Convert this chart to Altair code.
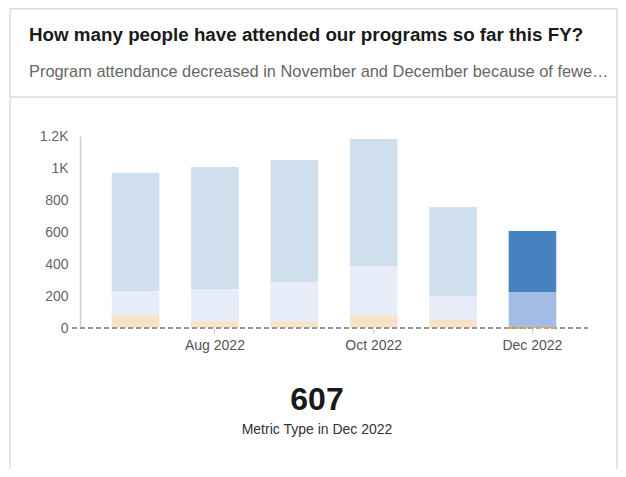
import altair as alt
import pandas as pd

# ---------------- data ----------------
months = ["Jul 2022", "Aug 2022", "Sep 2022", "Oct 2022", "Nov 2022", "Dec 2022"]
series_names = ["Type A", "Type B", "Type C"]          # bottom -> top
type_a = [80, 42, 42, 79, 54, 0]
type_b = [151, 200, 245, 308, 146, 225]
type_c = [739, 764, 763, 794, 556, 382]
highlight_month = "Dec 2022"
y_ticks = [0, 200, 400, 600, 800, 1000, 1200]
x_tick_labels = ["Aug 2022", "Oct 2022", "Dec 2022"]

title_text = "How many people have attended our programs so far this FY?"
subtitle_text = "Program attendance decreased in November and December because of fewe\u2026"
caption_text = "Metric Type in " + highlight_month

# ---------------- styling ----------------
FONT = "Liberation Sans, Arial, sans-serif"
W, H = 607, 461
base_colors = ["#f8e2c8", "#e6ecf8", "#d0dfed"]
hl_colors = ["#f5a04a", "#a3bce3", "#4682c0"]

rows = []
for vals, name, rank in zip([type_a, type_b, type_c], series_names, range(3)):
    for m, v in zip(months, vals):
        hl = m == highlight_month
        rows.append({"month": m, "series": name, "value": v, "rank": rank,
                     "key": name + (" (hl)" if hl else "")})
df = pd.DataFrame(rows)

color_domain = series_names + [s + " (hl)" for s in series_names]
color_range = base_colors + hl_colors

total_hl = int(df[df.month == highlight_month].value.sum())

x_scale = alt.Scale(range=[70, 578], paddingInner=0.4, paddingOuter=0.4)
x_enc = alt.X(
    "month:N", sort=months, title=None, scale=x_scale,
    axis=alt.Axis(orient="bottom", offset=320 - H, values=x_tick_labels,
                  domain=False, ticks=True, tickColor="#cccccc", tickSize=5,
                  tickWidth=1, labelAngle=0, labelFontSize=14, labelColor="#555555",
                  labelFont=FONT, labelPadding=5, grid=False),
)
y_scale = alt.Scale(domain=[0, 1200], range=[320, 128], nice=False, zero=True)

bars = alt.Chart(df).mark_bar().encode(
    x=x_enc,
    y=alt.Y("value:Q", stack="zero", scale=y_scale, title=None,
            axis=alt.Axis(orient="left", offset=-70, values=y_ticks, grid=False,
                          ticks=False, domain=True, domainColor="#cccccc",
                          domainWidth=1.5, labelFontSize=14, labelColor="#666666",
                          labelFont=FONT, labelPadding=12,
                          labelExpr="datum.value >= 1000 ? format(datum.value / 1000, '~g') + 'K' : datum.label")),
    color=alt.Color("key:N", scale=alt.Scale(domain=color_domain, range=color_range), legend=None),
    order=alt.Order("rank:Q"),
)

zero_line = alt.Chart(pd.DataFrame({"v": [0]})).mark_rule(
    color="#999999", strokeWidth=2, strokeDash=[5, 3]
).encode(y=alt.Y("v:Q", scale=y_scale), x=alt.value(62), x2=alt.value(578))

zero_hl = alt.Chart(df).transform_filter(
    (alt.datum.month == highlight_month) & (alt.datum.value == 0)
).mark_bar(fillOpacity=0, stroke="#f5a04a", strokeWidth=2, strokeDash=[2, 5]).encode(
    x=alt.X("month:N", sort=months, scale=x_scale),
    y=alt.Y("value:Q", scale=y_scale),
)

def text_layer(txt, x, y, size, weight="normal", color="#222222", align="left"):
    return alt.Chart(pd.DataFrame({"t": [txt]})).mark_text(
        align=align, baseline="alphabetic", fontSize=size, fontWeight=weight,
        color=color, font=FONT
    ).encode(x=alt.value(x), y=alt.value(y), text="t:N")

title = text_layer(title_text, 19, 33, 18.8, "bold", "#1a1a1a")
subtitle = text_layer(subtitle_text, 19, 69, 16.4, "normal", "#666666")
big = alt.Chart(pd.DataFrame({"t": [f"{total_hl}"]})).mark_text(
    align="center", baseline="alphabetic", fontSize=32, fontWeight="bold",
    color="#1a1a1a", font=FONT).encode(x=alt.value(307), y=alt.value(402), text="t:N")
caption = text_layer(caption_text, 307, 426, 14, "normal", "#333333", align="center")

border_col = "#dddddd"
dummy = pd.DataFrame({"d": [0]})
left_border = alt.Chart(dummy).mark_rule(color=border_col, strokeWidth=1.5).encode(
    x=alt.value(0), y=alt.value(0), y2=alt.value(H))
right_border = alt.Chart(dummy).mark_rule(color=border_col, strokeWidth=1.5).encode(
    x=alt.value(W), y=alt.value(0), y2=alt.value(H))
top_border = alt.Chart(dummy).mark_rule(color=border_col, strokeWidth=1.5).encode(
    x=alt.value(0), x2=alt.value(W), y=alt.value(0.75))
divider = alt.Chart(dummy).mark_rule(color=border_col, strokeWidth=1.5).encode(
    x=alt.value(0), x2=alt.value(W), y=alt.value(89))

chart = alt.layer(
    left_border, right_border, top_border, divider,
    title, subtitle, bars, zero_line, zero_hl, big, caption
).properties(
    width=W, height=H,
    autosize=alt.AutoSizeParams(type="none"),
    padding={"left": 2, "top": 0, "right": 1, "bottom": 0},
).configure_view(stroke=None)

chart.save("out.html", embed_options={"renderer": "svg", "actions": False})
